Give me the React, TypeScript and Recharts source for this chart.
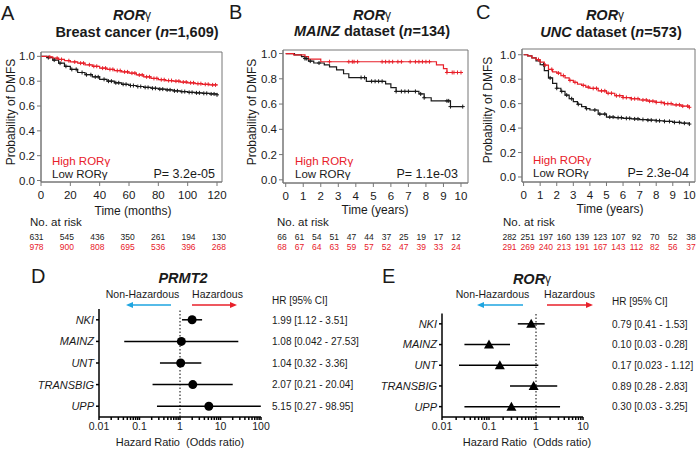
import React from 'react';
import { ComposedChart, ScatterChart, Line, Scatter, XAxis, YAxis, ReferenceArea, ReferenceLine, ErrorBar } from 'recharts';

const FONT = 'Arial, "Liberation Sans", Helvetica, sans-serif';
const RED = '#e8202a';
const BLUE = '#1ea5e0';
const INK = '#1a1a1a';
const FRAME = '#777';

// A: breast cancer, months
const aTime = [0, 4, 8, 12, 16, 20, 25, 30, 35, 40, 45, 50, 55, 60, 65, 70, 75, 80, 85, 90, 95, 100, 105, 110, 115, 120];
const aHigh = [1.0, 0.995, 0.985, 0.975, 0.965, 0.955, 0.945, 0.932, 0.92, 0.905, 0.895, 0.885, 0.875, 0.865, 0.85, 0.835, 0.822, 0.812, 0.805, 0.8, 0.793, 0.787, 0.78, 0.775, 0.77, 0.765];
const aLow = [1.0, 0.99, 0.97, 0.945, 0.92, 0.895, 0.87, 0.852, 0.835, 0.815, 0.8, 0.787, 0.775, 0.765, 0.757, 0.75, 0.743, 0.736, 0.73, 0.722, 0.716, 0.71, 0.706, 0.702, 0.697, 0.69];
const aHighCens = [6, 11, 14, 19, 23, 27, 29, 33, 36, 38, 42, 44, 47, 49, 52, 54, 57, 59, 62, 64, 67, 69, 72, 74, 77, 79, 82, 84, 87, 89, 92, 94, 97, 99, 102, 104, 107, 109, 112, 114, 117, 119];
const aLowCens = [5, 9, 13, 17, 21, 24, 28, 31, 34, 37, 39, 43, 46, 48, 51, 53, 56, 58, 61, 63, 66, 68, 71, 73, 76, 78, 81, 83, 86, 88, 91, 93, 96, 98, 101, 103, 106, 108, 111, 113, 116, 118, 120];
const aRiskLow = [631, 545, 436, 350, 261, 194, 130];
const aRiskHigh = [978, 900, 808, 695, 536, 396, 268];

// B: MAINZ, years
const bHighTime = [0, 0.45, 1.1, 1.3, 2.0, 8.6, 9.0, 9.2, 10.1];
const bHigh = [1.0, 0.99, 0.975, 0.955, 0.935, 0.91, 0.88, 0.85, 0.85];
const bLowTime = [0, 0.5, 0.9, 1.1, 1.3, 1.6, 2.2, 2.5, 2.9, 3.3, 3.6, 4.6, 5.7, 6.0, 6.3, 7.6, 7.9, 8.3, 9.4, 10.1];
const bLow = [1.0, 0.99, 0.975, 0.96, 0.94, 0.925, 0.91, 0.895, 0.87, 0.84, 0.81, 0.78, 0.76, 0.73, 0.7, 0.68, 0.65, 0.625, 0.58, 0.58];
const bHighCens = [2.5, 3.6, 3.8, 3.9, 4.1, 5.5, 5.7, 5.9, 6.1, 6.4, 6.6, 7.1, 7.4, 7.6, 7.8, 8.0, 8.2, 9.2, 9.5, 9.6, 9.8, 10.0];
const bLowCens = [1.1, 1.2, 1.4, 1.9, 4.3, 4.5, 4.9, 5.1, 5.3, 5.5, 6.3, 6.6, 6.8, 7.0, 7.4, 7.7, 7.9, 9.2, 9.3, 9.4, 10.1];
const bRiskLow = [66, 61, 54, 51, 47, 44, 37, 25, 19, 17, 12];
const bRiskHigh = [68, 67, 64, 63, 59, 57, 52, 47, 39, 33, 24];

// C: UNC, years
const cTime = [0, 0.25, 0.5, 0.75, 1, 1.25, 1.5, 1.75, 2, 2.25, 2.5, 2.75, 3, 3.25, 3.5, 3.75, 4, 4.5, 5, 5.5, 6, 6.5, 7, 7.5, 8, 8.5, 9, 9.5, 10];
const cHigh = [1.0, 0.99, 0.975, 0.96, 0.94, 0.915, 0.88, 0.86, 0.85, 0.83, 0.81, 0.79, 0.775, 0.76, 0.75, 0.735, 0.725, 0.705, 0.685, 0.665, 0.65, 0.64, 0.63, 0.62, 0.61, 0.6, 0.59, 0.58, 0.57];
const cLow = [1.0, 0.99, 0.975, 0.95, 0.918, 0.87, 0.81, 0.765, 0.726, 0.7, 0.67, 0.64, 0.616, 0.595, 0.575, 0.56, 0.548, 0.515, 0.49, 0.485, 0.48, 0.475, 0.47, 0.465, 0.46, 0.455, 0.447, 0.44, 0.433];
const cHighCens = [0.9, 1.3, 1.7, 2.1, 2.4, 2.8, 3.1, 3.6, 3.9, 4.2, 4.4, 4.7, 4.9, 5.1, 5.3, 5.6, 5.8, 6.0, 6.2, 6.5, 6.7, 6.9, 7.2, 7.4, 7.6, 7.8, 8.0, 8.3, 8.5, 8.7, 8.9, 9.2, 9.4, 9.6, 9.9, 10.0];
const cLowCens = [1.2, 1.6, 2.0, 2.3, 2.6, 2.9, 3.3, 3.8, 4.3, 4.6, 4.9, 5.2, 5.4, 5.7, 5.9, 6.2, 6.4, 6.7, 6.9, 7.2, 7.5, 7.7, 8.0, 8.2, 8.5, 8.8, 9.1, 9.4, 9.7, 10.0];
const cRiskLow = [282, 251, 197, 160, 139, 123, 107, 92, 70, 52, 38];
const cRiskHigh = [291, 269, 240, 213, 191, 167, 143, 112, 82, 56, 37];

const kmYTicks = [0, 0.2, 0.4, 0.6, 0.8, 1.0];
const monthTicks = [0, 20, 40, 60, 80, 100, 120];
const yearTicks = [0, 1, 2, 3, 4, 5, 6, 7, 8, 9, 10];

// D / E forest plots
const studies = ['NKI', 'MAINZ', 'UNT', 'TRANSBIG', 'UPP'];
const dHr = [1.99, 1.08, 1.04, 2.07, 5.15];
const dLo = [1.12, 0.042, 0.32, 0.21, 0.27];
const dHi = [3.51, 27.53, 3.36, 20.04, 98.95];
const eHr = [0.79, 0.1, 0.17, 0.89, 0.3];
const eLo = [0.41, 0.03, 0.023, 0.28, 0.03];
const eHi = [1.53, 0.28, 1.12, 2.83, 3.25];

const series = (time: number[], surv: number[]) => time.map((t, i) => ({ t, s: surv[i] }));
const marks = (time: number[], surv: number[], cens: number[]) =>
  cens.map((c) => {
    let k = 0;
    time.forEach((t, i) => { if (t <= c) k = i; });
    return { t: c, s: surv[k] };
  });

const plus = (color: string) => (p: any) => (
  <path d={`M${p.cx - 2},${p.cy}h4M${p.cx},${p.cy - 2}v4`} stroke={color} strokeWidth={1} fill="none" />
);

function KmPanel({ box, xDomain, yDomain, xTicks, high, low, highCens, lowCens }: any) {
  const [x0, y0, x1, y1] = box;
  const w = x1 - x0 + 46;
  const h = y1 - y0 + 30;
  return (
    <div style={{ position: 'absolute', left: x0 - 40, top: y0 - 4 }}>
      <ComposedChart width={w} height={h} margin={{ top: 4, right: 6, left: 0, bottom: 0 }}>
        <XAxis type="number" dataKey="t" domain={xDomain} ticks={xTicks} allowDataOverflow interval={0}
          height={26} tickSize={4} tickMargin={5} stroke={FRAME} tick={{ fontSize: 11.5, fill: INK }} />
        <YAxis type="number" dataKey="s" domain={yDomain} ticks={kmYTicks} allowDataOverflow interval={0}
          width={40} tickSize={4} tickMargin={2} stroke={FRAME} tick={{ fontSize: 11.5, fill: INK }}
          tickFormatter={(v: number) => v.toFixed(1)} />
        <ReferenceArea x1={xDomain[0]} x2={xDomain[1]} y1={yDomain[0]} y2={yDomain[1]} fill="none" stroke={FRAME} />
        <Line data={low} dataKey="s" type="stepAfter" stroke={INK} strokeWidth={1.2} dot={false} isAnimationActive={false} />
        <Line data={high} dataKey="s" type="stepAfter" stroke={RED} strokeWidth={1.2} dot={false} isAnimationActive={false} />
        <Scatter data={lowCens} dataKey="s" shape={plus(INK)} isAnimationActive={false} />
        <Scatter data={highCens} dataKey="s" shape={plus(RED)} isAnimationActive={false} />
      </ComposedChart>
    </div>
  );
}

const circle = (p: any) => <circle cx={p.cx} cy={p.cy} r={4.5} fill="#000" />;
const triangle = (p: any) => (
  <path d={`M${p.cx},${p.cy - 5}L${p.cx + 5},${p.cy + 4}L${p.cx - 5},${p.cy + 4}Z`} fill="#000" />
);

function Forest({ left, top, width, yWidth, right, topGap, hr, lo, hi, major, minor, shape }: any) {
  const data = studies.map((name, i) => ({ idx: i, hr: hr[i], err: [hr[i] - lo[i], hi[i] - hr[i]] }));
  return (
    <div style={{ position: 'absolute', left, top }}>
      <ScatterChart width={width} height={150} margin={{ top: topGap, right, left: 0, bottom: 0 }}>
        <XAxis type="number" dataKey="hr" scale="log" domain={[major[0], major[major.length - 1]]} allowDataOverflow
          ticks={[...major, ...minor]} interval={0} tickFormatter={(v: number) => (major.includes(v) ? String(v) : '')}
          height={33} tickSize={3} tickMargin={3} stroke="#000" strokeWidth={1.5} tick={{ fontSize: 10.5, fill: INK }} />
        <YAxis type="number" dataKey="idx" domain={[-0.5, 4.5]} reversed ticks={[0, 1, 2, 3, 4]} interval={0}
          width={yWidth} tickSize={3} tickMargin={2} stroke="#000" strokeWidth={1.5}
          tick={{ fontSize: 11, fill: INK, fontStyle: 'italic' }} tickFormatter={(i: number) => studies[i]} />
        <ReferenceLine x={1} stroke="#000" strokeDasharray="1.5 2" />
        <Scatter data={data} shape={shape} isAnimationActive={false}>
          <ErrorBar dataKey="err" direction="x" width={0} stroke="#000" strokeWidth={1.5} />
        </Scatter>
      </ScatterChart>
    </div>
  );
}

function T({ x, y, size = 12, anchor = 'start', fill = INK, weight = 'normal', italic = false, rotate, children }: any) {
  return (
    <text x={x} y={y} fontSize={size} textAnchor={anchor} dominantBaseline="central" fill={fill}
      fontWeight={weight} fontStyle={italic ? 'italic' : 'normal'} style={{ whiteSpace: 'pre' }}
      transform={rotate ? `rotate(${rotate} ${x} ${y})` : undefined}>
      {children}
    </text>
  );
}

const Ror = ({ x, y }: any) => (
  <T x={x} y={y} size={14.5} anchor="middle" weight="bold">
    <tspan fontStyle="italic">ROR</tspan><tspan fontWeight="normal" fontSize={12}>γ</tspan>
  </T>
);

const fmt = (v: number) => (Number(v.toFixed(2)) === v ? v.toFixed(2) : String(v));

function RiskRows({ x, y, start, step, low, high }: any) {
  return (
    <g>
      <T x={x} y={y} size={11.5}>No. at risk</T>
      {low.map((n: number, i: number) => <T key={'l' + i} x={start + step * i} y={y + 15} size={8.5} anchor="middle">{n}</T>)}
      {high.map((n: number, i: number) => <T key={'h' + i} x={start + step * i} y={y + 24.5} size={8.5} anchor="middle" fill={RED}>{n}</T>)}
    </g>
  );
}

function KmLegend({ x, y, px, p }: any) {
  return (
    <g>
      <T x={x} y={y} size={11.5} fill={RED}>High RORγ</T>
      <T x={x} y={y + 12.5} size={11.5}>Low RORγ</T>
      <T x={px} y={y + 12.5} size={12.5} anchor="end">{p}</T>
    </g>
  );
}

function Arrows({ y, blue, red }: any) {
  return (
    <g>
      <line x1={blue[1]} y1={y} x2={blue[0] + 6} y2={y} stroke={BLUE} strokeWidth={1.5} />
      <path d={`M${blue[0]},${y}l7,-3v6Z`} fill={BLUE} />
      <line x1={red[0]} y1={y} x2={red[1] - 6} y2={y} stroke={RED} strokeWidth={1.5} />
      <path d={`M${red[1]},${y}l-7,-3v6Z`} fill={RED} />
    </g>
  );
}

export default function App() {
  return (
    <div style={{ position: 'absolute', left: 0, top: 0, width: 700, height: 450, background: '#fff', fontFamily: FONT }}>
      <KmPanel box={[41, 52, 222, 182]} xDomain={[0, 123.4]} yDomain={[-0.012, 1.035]} xTicks={monthTicks}
        high={series(aTime, aHigh)} low={series(aTime, aLow)}
        highCens={marks(aTime, aHigh, aHighCens)} lowCens={marks(aTime, aLow, aLowCens)} />
      <KmPanel box={[283, 50, 468, 183]} xDomain={[-0.155, 10.4]} yDomain={[-0.025, 1.028]} xTicks={yearTicks}
        high={series(bHighTime, bHigh)} low={series(bLowTime, bLow)}
        highCens={marks(bHighTime, bHigh, bHighCens)} lowCens={marks(bLowTime, bLow, bLowCens)} />
      <KmPanel box={[522, 49, 695, 182]} xDomain={[-0.096, 10.34]} yDomain={[-0.041, 1.047]} xTicks={yearTicks}
        high={series(cTime, cHigh)} low={series(cTime, cLow)}
        highCens={marks(cTime, cHigh, cHighCens)} lowCens={marks(cTime, cLow, cLowCens)} />

      <Forest left={0} top={300} width={275} yWidth={99} right={14} topGap={9} hr={dHr} lo={dLo} hi={dHi}
        major={[0.01, 0.1, 1, 10, 100]}
        minor={[0.02, 0.03, 0.04, 0.05, 0.06, 0.07, 0.08, 0.09, 0.2, 0.3, 0.4, 0.5, 0.6, 0.7, 0.8, 0.9, 2, 3, 4, 5, 6, 7, 8, 9, 20, 30, 40, 50, 60, 70, 80, 90]}
        shape={circle} />
      <Forest left={350} top={300} width={250} yWidth={92} right={17} topGap={13.5} hr={eHr} lo={eLo} hi={eHi}
        major={[0.01, 0.1, 1, 10]}
        minor={[0.02, 0.03, 0.04, 0.05, 0.06, 0.07, 0.08, 0.09, 0.2, 0.3, 0.4, 0.5, 0.6, 0.7, 0.8, 0.9, 2, 3, 4, 5, 6, 7, 8, 9]}
        shape={triangle} />

      <svg width={700} height={450} style={{ position: 'absolute', left: 0, top: 0, pointerEvents: 'none', fontFamily: FONT }}>
        {/* panel letters */}
        <T x={1} y={13} size={20}>A</T>
        <T x={229} y={12} size={20}>B</T>
        <T x={476} y={12} size={20}>C</T>
        <T x={31} y={276} size={20}>D</T>
        <T x={382} y={276} size={20}>E</T>

        {/* KM titles */}
        <Ror x={132} y={15} />
        <T x={137} y={32} size={14.5} anchor="middle" weight="bold">Breast cancer (<tspan fontStyle="italic">n</tspan>=1,609)</T>
        <Ror x={372} y={15} />
        <T x={372} y={31} size={14.5} anchor="middle" weight="bold"><tspan fontStyle="italic">MAINZ</tspan> dataset (<tspan fontStyle="italic">n</tspan>=134)</T>
        <Ror x={605} y={15} />
        <T x={611} y={32} size={14.5} anchor="middle" weight="bold"><tspan fontStyle="italic">UNC</tspan> dataset (<tspan fontStyle="italic">n</tspan>=573)</T>

        {/* KM axis titles */}
        <T x={11} y={112} anchor="middle" rotate={-90}>Probability of DMFS</T>
        <T x={252} y={112} anchor="middle" rotate={-90}>Probability of DMFS</T>
        <T x={488} y={110} anchor="middle" rotate={-90}>Probability of DMFS</T>
        <T x={133} y={211} anchor="middle">Time (months)</T>
        <T x={375} y={210} anchor="middle">Time (years)</T>
        <T x={610} y={209} anchor="middle">Time (years)</T>

        <KmLegend x={52} y={161} px={215} p="P= 3.2e-05" />
        <KmLegend x={295} y={161} px={458} p="P= 1.1e-03" />
        <KmLegend x={533} y={160} px={689} p="P= 2.3e-04" />

        <RiskRows x={30} y={222} start={36.5} step={30.4} low={aRiskLow} high={aRiskHigh} />
        <RiskRows x={277} y={222} start={282} step={17.4} low={bRiskLow} high={bRiskHigh} />
        <RiskRows x={503} y={222} start={509.5} step={18.15} low={cRiskLow} high={cRiskHigh} />

        {/* forest titles */}
        <T x={183} y={278} size={14.5} anchor="middle" weight="bold" italic>PRMT2</T>
        <Ror x={532} y={279} />
        <T x={142.5} y={294} size={10.5} anchor="middle">Non-Hazardous</T>
        <T x={217.5} y={294} size={10.5} anchor="middle">Hazardous</T>
        <T x={492.5} y={294} size={10.5} anchor="middle">Non-Hazardous</T>
        <T x={569.5} y={294} size={10.5} anchor="middle">Hazardous</T>
        <Arrows y={305} blue={[126, 171]} red={[192, 237]} />
        <Arrows y={305} blue={[477, 523]} red={[547, 593]} />

        <T x={272} y={300} size={10}>HR [95% CI]</T>
        {studies.map((s, i) => (
          <T key={'d' + s} x={272} y={320 + 21.5 * i} size={10}>{`${fmt(dHr[i])} [${fmt(dLo[i])} - ${fmt(dHi[i])}]`}</T>
        ))}
        <T x={612} y={301} size={10}>HR [95% CI]</T>
        {studies.map((s, i) => (
          <T key={'e' + s} x={612} y={324 + 20.7 * i} size={10}>{`${fmt(eHr[i])} [${fmt(eLo[i])} - ${fmt(eHi[i])}]`}</T>
        ))}

        <T x={180} y={442} size={11} anchor="middle">Hazard Ratio  (Odds ratio)</T>
        <T x={527} y={442} size={11} anchor="middle">Hazard Ratio  (Odds ratio)</T>
      </svg>
    </div>
  );
}
